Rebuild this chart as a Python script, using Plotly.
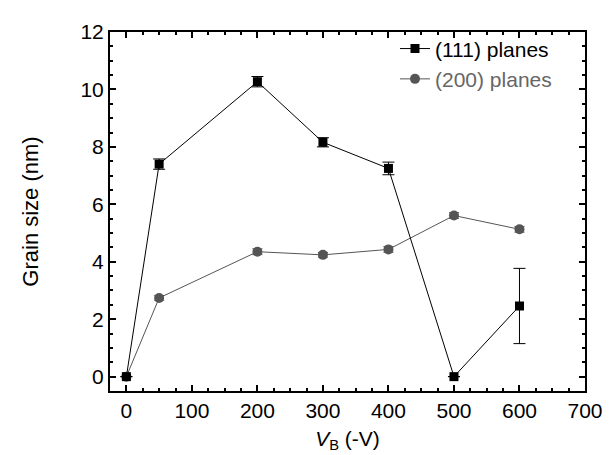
import plotly.graph_objects as go

vb = [0, 50, 200, 300, 400, 500, 600]
g111 = [0.0, 7.40, 10.27, 8.16, 7.25, 0.0, 2.46]
e111 = [0.0, 0.18, 0.18, 0.16, 0.22, 0.0, 1.31]
g200 = [0.0, 2.74, 4.35, 4.24, 4.43, 5.61, 5.13]
e200 = [0.0, 0.08, 0.10, 0.08, 0.10, 0.10, 0.10]

x_ticks = [0, 100, 200, 300, 400, 500, 600, 700]
y_ticks = [0, 2, 4, 6, 8, 10, 12]

GRAY = "#555555"
FONT = "Liberation Sans, Arial, Helvetica, sans-serif"

fig = go.Figure()
fig.add_trace(go.Scatter(
    x=vb, y=g200, mode="lines+markers",
    name='<span style="color:#666666">(200) planes</span>',
    line=dict(color=GRAY, width=1),
    marker=dict(symbol="circle", size=10, color=GRAY),
    error_y=dict(type="data", array=e200, color=GRAY, thickness=1, width=5),
))
fig.add_trace(go.Scatter(
    x=vb, y=g111, mode="lines+markers",
    name="(111) planes",
    line=dict(color="black", width=1),
    marker=dict(symbol="square", size=9, color="black"),
    error_y=dict(type="data", array=e111, color="black", thickness=1, width=6),
))

axis_common = dict(
    showline=True, linecolor="black", linewidth=2, mirror="allticks",
    ticks="inside", ticklen=6, tickwidth=1.5, tickcolor="black",
    showgrid=False, zeroline=False,
    tickfont=dict(family=FONT, size=21, color="black"),
)

fig.update_layout(
    width=610, height=455, autosize=False,
    margin=dict(l=102, r=33, t=17, b=72),
    plot_bgcolor="white", paper_bgcolor="white",
    font=dict(family=FONT, size=21, color="black"),
    xaxis=dict(
        range=[-25, 700], tickvals=x_ticks,
        minor=dict(dtick=25, tick0=0, ticks="inside", ticklen=3, tickwidth=1.5, tickcolor="black"),
        title=dict(text="<i>V</i><sub>B</sub> (-V)", font=dict(family=FONT, size=21), standoff=10),
        **axis_common,
    ),
    yaxis=dict(
        range=[-0.5, 12], tickvals=y_ticks,
        minor=dict(dtick=0.5, tick0=0, ticks="inside", ticklen=3, tickwidth=1.5, tickcolor="black"),
        title=dict(text="Grain size (nm)", font=dict(family=FONT, size=22), standoff=36),
        **axis_common,
    ),
    legend=dict(
        x=0.60, y=1.01, xanchor="left", yanchor="top",
        bgcolor="rgba(0,0,0,0)", traceorder="reversed",
        font=dict(family=FONT, size=21, color="black"),
        tracegroupgap=0,
    ),
)

fig.write_html("out.html")
